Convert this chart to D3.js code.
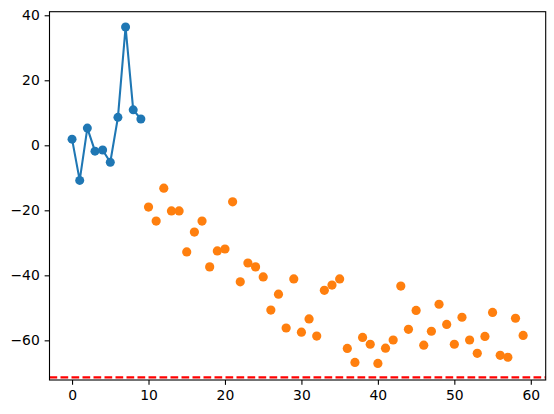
<!DOCTYPE html>
<html>
<head>
<meta charset="utf-8">
<script src="https://cdn.jsdelivr.net/npm/d3@7"></script>
<style>
  body { margin: 0; background: #fff; }
  svg { display: block; }
  .tick text { font-family: "DejaVu Sans", sans-serif; font-size: 13.9px; fill: #000; }
</style>
</head>
<body>
<svg width="554" height="414"></svg>
<script>
// line series (x = 0..9)
const lineX = [0, 1, 2, 3, 4, 5, 6, 7, 8, 9];
const lineY = [1.9, -10.8, 5.3, -1.8, -1.45, -5.2, 8.6, 36.4, 10.9, 8.1];

// scatter series (x = 10..59)
const scatX = d3.range(10, 60);
const scatY = [-19.0, -23.3, -13.2, -20.2, -20.2, -32.8, -26.7, -23.3, -37.4, -32.5,
               -31.9, -17.4, -42.0, -36.2, -37.4, -40.5, -50.7, -45.8, -56.2, -41.1,
               -57.5, -53.4, -58.7, -44.6, -43.0, -41.1, -62.5, -66.8, -59.1, -61.2,
               -67.1, -62.4, -59.9, -43.3, -56.6, -50.8, -61.5, -57.2, -48.9, -55.1,
               -61.2, -52.9, -59.9, -64.0, -58.8, -51.4, -64.6, -65.2, -53.2, -58.5];

const refLevel = -71.4;

const xTicks = [0, 10, 20, 30, 40, 50, 60];
const yTicks = [-60, -40, -20, 0, 20, 40];

const svg = d3.select("svg");
const margin = {top: 11.7, right: 8.3, bottom: 34, left: 49.5};
const width = svg.attr("width") - margin.left - margin.right;
const height = svg.attr("height") - margin.top - margin.bottom;

const g = svg.append("g")
  .attr("transform", "translate(" + margin.left + "," + margin.top + ")");

const x = d3.scaleLinear().domain([-2.95, 61.95]).range([0, width]);
const y = d3.scaleLinear().domain([-72.2, 41.1]).range([height, 0]);

// line with markers
const lineData = lineX.map((d, i) => [d, lineY[i]]);
g.append("path")
  .datum(lineData)
  .attr("fill", "none")
  .attr("stroke", "#1f77b4")
  .attr("stroke-width", 2.08)
  .attr("stroke-linejoin", "round")
  .attr("d", d3.line().x(d => x(d[0])).y(d => y(d[1])));

g.selectAll(".lp")
  .data(lineData)
  .enter()
  .append("circle")
  .attr("class", "lp")
  .attr("cx", d => x(d[0]))
  .attr("cy", d => y(d[1]))
  .attr("r", 4.5)
  .attr("fill", "#1f77b4");

// scatter
g.selectAll(".sp")
  .data(scatX.map((d, i) => [d, scatY[i]]))
  .enter()
  .append("circle")
  .attr("class", "sp")
  .attr("cx", d => x(d[0]))
  .attr("cy", d => y(d[1]))
  .attr("r", 4.6)
  .attr("fill", "#ff7f0e");

// horizontal reference line
g.append("line")
  .attr("x1", 0)
  .attr("x2", width)
  .attr("y1", y(refLevel))
  .attr("y2", y(refLevel))
  .attr("stroke", "red")
  .attr("stroke-width", 2.08)
  .attr("stroke-dasharray", "7.7,3.3");

// axes
const xAxis = g.append("g")
  .attr("transform", "translate(0," + height + ")")
  .call(d3.axisBottom(x).tickValues(xTicks).tickSize(4.86).tickPadding(4.9));
const yAxis = g.append("g")
  .call(d3.axisLeft(y).tickValues(yTicks).tickSize(4.86).tickPadding(4.9));

[xAxis, yAxis].forEach(a => {
  a.select(".domain").remove();
  a.selectAll(".tick line").attr("stroke", "#000").attr("stroke-width", 1.1);
});

// frame
g.append("rect")
  .attr("width", width)
  .attr("height", height)
  .attr("fill", "none")
  .attr("stroke", "#000")
  .attr("stroke-width", 1.1);
</script>
</body>
</html>
